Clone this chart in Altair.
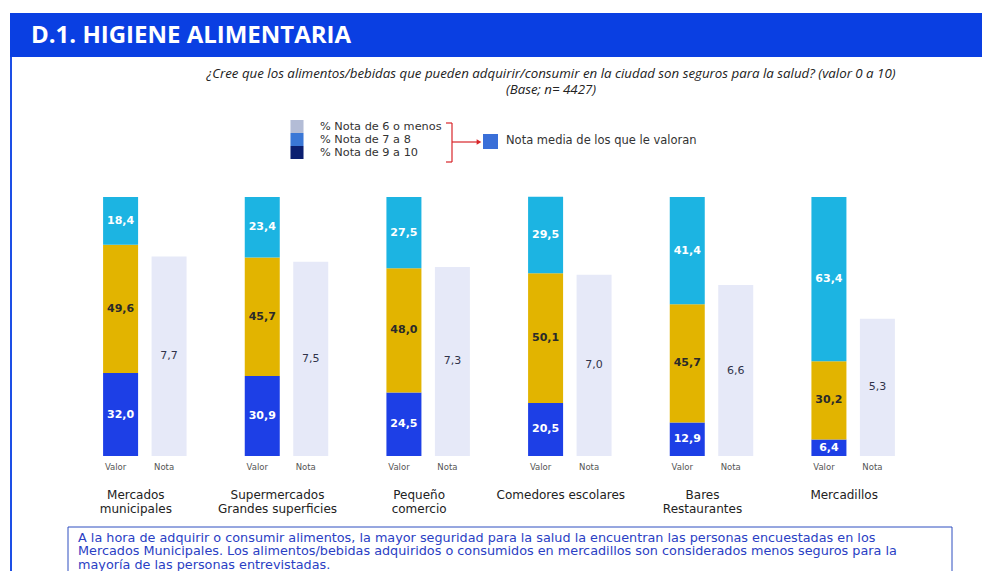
import altair as alt
import pandas as pd

# ---------------- data ----------------
categories = [
    "Mercados\nmunicipales",
    "Supermercados\nGrandes superficies",
    "Pequeño\ncomercio",
    "Comedores escolares",
    "Bares\nRestaurantes",
    "Mercadillos",
]
pct_9_10 = [32.0, 30.9, 24.5, 20.5, 12.9, 6.4]
pct_7_8 = [49.6, 45.7, 48.0, 50.1, 45.7, 30.2]
pct_6_menos = [18.4, 23.4, 27.5, 29.5, 41.4, 63.4]
nota_media = [7.7, 7.5, 7.3, 7.0, 6.6, 5.3]
segments = ["% Nota de 9 a 10", "% Nota de 7 a 8", "% Nota de 6 o menos"]
bar_kinds = ["Valor", "Nota"]
legend_labels = ["% Nota de 6 o menos", "% Nota de 7 a 8", "% Nota de 9 a 10"]
legend_note = "Nota media de los que le valoran"
title_text = "D.1. HIGIENE ALIMENTARIA"
subtitle_lines = [
    "¿Cree que los alimentos/bebidas que pueden adquirir/consumir en la ciudad son seguros para la salud? (valor 0 a 10)",
    "(Base; n= 4427)",
]
box_lines = [
    "A la hora de adquirir o consumir alimentos, la mayor seguridad para la salud la encuentran las personas encuestadas  en los",
    "Mercados Municipales. Los alimentos/bebidas adquiridos o consumidos en mercadillos son considerados menos seguros para la",
    "mayoría de las personas entrevistadas.",
]

seg_rows = []
for i, c in enumerate(categories):
    for k, (name, arr) in enumerate(zip(segments, [pct_9_10, pct_7_8, pct_6_menos])):
        seg_rows.append({"cat": c, "seg": name, "ord": k, "val": arr[i], "tipo": "Valor"})
seg_df = pd.DataFrame(seg_rows)
nota_df = pd.DataFrame({"cat": categories, "nota": nota_media, "tipo": "Nota"})
kind_df = pd.DataFrame([{"cat": c, "tipo": t} for c in categories for t in bar_kinds])
cat_df = pd.DataFrame({"cat": categories})

# ---------------- layout ----------------
W, H = 850, 259
PL, PT = 66, 189
TOTW, TOTH = 974, 563
OX, OY = PL + 8, PT + 8  # page coords of plot origin


def px(x):
    return x - OX


def py(y):
    return y - OY


WIDE = "DejaVu Sans"
BLUE = "#1d3fe6"
GOLD = "#e2b400"
CYAN = "#1cb4e2"
LAV = "#e6e9f8"
HEADER = "#0a3fe2"

x_enc = alt.X("cat:N", scale=alt.Scale(domain=categories, paddingInner=0, paddingOuter=0), axis=None)
xo_enc = alt.XOffset("tipo:N", scale=alt.Scale(domain=bar_kinds, paddingInner=0.278, paddingOuter=0.6))
y_scale = alt.Scale(domain=[0, 100], nice=False, zero=True)

stacked = alt.Chart(seg_df).transform_stack(
    stack="val", groupby=["cat"], sort=[alt.SortField("ord", order="ascending")], as_=["y0", "y1"]
).transform_calculate(
    mid="(datum.y0 + datum.y1) / 2",
    lbl="replace(format(datum.val, '.1f'), '.', ',')",
)

bars = stacked.mark_bar().encode(
    x=x_enc,
    xOffset=xo_enc,
    y=alt.Y("y0:Q", scale=y_scale, axis=None),
    y2="y1:Q",
    color=alt.Color("seg:N", scale=alt.Scale(domain=segments, range=[BLUE, GOLD, CYAN]), legend=None),
)

bar_text = stacked.mark_text(font=WIDE, fontSize=11, fontWeight="bold").encode(
    x=x_enc,
    xOffset=xo_enc,
    y=alt.Y("mid:Q", scale=y_scale, axis=None),
    text="lbl:N",
    color=alt.condition(alt.datum.seg == segments[1], alt.value("#2a2a2a"), alt.value("white")),
)

nota_base = alt.Chart(nota_df).transform_calculate(
    n10="datum.nota * 10",
    n5="datum.nota * 5",
    lbl="replace(format(datum.nota, '.1f'), '.', ',')",
)
nota_bars = nota_base.mark_bar(color=LAV).encode(
    x=x_enc, xOffset=xo_enc, y=alt.Y("n10:Q", scale=y_scale, axis=None)
)
nota_text = nota_base.mark_text(font=WIDE, fontSize=11, color="#30334a").encode(
    x=x_enc, xOffset=xo_enc, y=alt.Y("n5:Q", scale=y_scale, axis=None), text="lbl:N"
)

kind_text = alt.Chart(kind_df).mark_text(font=WIDE, fontSize=8.5, color="#555555", dx=-5).encode(
    x=x_enc, xOffset=xo_enc, y=alt.value(py(467)), text="tipo:N"
)

cat_text = alt.Chart(cat_df).mark_text(
    font=WIDE, fontSize=12, color="#222222", lineBreak="\n", baseline="middle", lineHeight=13.5, dx=-9
).encode(x=x_enc, y=alt.value(py(495)), text="cat:N")

one = pd.DataFrame({"k": [0]})

header = alt.Chart(one).mark_rect(color=HEADER).encode(
    x=alt.value(px(10)), x2=alt.value(px(995)), y=alt.value(py(13)), y2=alt.value(py(57))
)
header_text = alt.Chart(pd.DataFrame({"t": [title_text]})).mark_text(
    font="Open Sans", fontSize=24, fontWeight="bold", color="white", align="left", baseline="middle"
).encode(x=alt.value(px(31)), y=alt.value(py(36)), text="t:N")
left_line = alt.Chart(one).mark_rule(color="#1d4fe6", strokeWidth=2).encode(
    x=alt.value(px(11)), y=alt.value(py(57)), y2=alt.value(py(590))
)

sub_df = pd.DataFrame({"t": subtitle_lines, "i": [0, 1]})
subtitle = alt.Chart(sub_df).mark_text(
    font="Open Sans", fontSize=13.3, fontStyle="italic", color="#222222", align="center", baseline="middle"
).encode(
    x=alt.value(px(551)),
    y=alt.Y("i:Q", scale=alt.Scale(domain=[0, 1], range=[py(73.5), py(90)]), axis=None),
    text="t:N",
)

# legend
leg_df = pd.DataFrame({"t": legend_labels, "i": [0, 1, 2]})
leg_y = alt.Y("i:Q", scale=alt.Scale(domain=[0, 2], range=[py(126.5), py(152.5)]), axis=None)
leg_sw = alt.Chart(leg_df).mark_square(size=170, opacity=1).encode(
    x=alt.value(px(297)),
    y=leg_y,
    color=alt.Color("i:O", scale=alt.Scale(domain=[0, 1, 2], range=["#b3bcd6", "#3a77d6", "#0b1f70"]), legend=None),
)
leg_txt = alt.Chart(leg_df).mark_text(
    font=WIDE, fontSize=11.3, color="#333333", align="left", baseline="middle"
).encode(x=alt.value(px(320)), y=leg_y, text="t:N")
RED = "#d8262a"
br_v = alt.Chart(one).mark_rule(color=RED, strokeWidth=1.2).encode(
    x=alt.value(px(452)), y=alt.value(py(123)), y2=alt.value(py(162))
)
br_t = alt.Chart(one).mark_rule(color=RED, strokeWidth=1.2).encode(
    x=alt.value(px(446)), x2=alt.value(px(452)), y=alt.value(py(123))
)
br_b = alt.Chart(one).mark_rule(color=RED, strokeWidth=1.2).encode(
    x=alt.value(px(446)), x2=alt.value(px(452)), y=alt.value(py(162))
)
arrow = alt.Chart(one).mark_rule(color=RED, strokeWidth=1.2).encode(
    x=alt.value(px(452)), x2=alt.value(px(478)), y=alt.value(py(142))
)
arrow_head = alt.Chart(one).mark_point(shape="triangle-right", filled=True, color=RED, size=30, opacity=1).encode(
    x=alt.value(px(479)), y=alt.value(py(142))
)
note_sw = alt.Chart(one).mark_rect(color="#3a6fd8").encode(
    x=alt.value(px(483)), x2=alt.value(px(498)), y=alt.value(py(134)), y2=alt.value(py(149))
)
note_txt = alt.Chart(pd.DataFrame({"t": [legend_note]})).mark_text(
    font=WIDE, fontSize=11.5, color="#333333", align="left", baseline="middle"
).encode(x=alt.value(px(506)), y=alt.value(py(141)), text="t:N")

# bottom box
box = alt.Chart(one).mark_rect(fill="white", stroke="#2f4fc0", strokeWidth=1).encode(
    x=alt.value(px(68)), x2=alt.value(px(952)), y=alt.value(py(527)), y2=alt.value(py(600))
)
box_df = pd.DataFrame({"t": box_lines, "i": [0, 1, 2]})
box_txt = alt.Chart(box_df).mark_text(
    font=WIDE, fontSize=12.8, color="#2a40c4", align="left", baseline="middle"
).encode(
    x=alt.value(px(78)),
    y=alt.Y("i:Q", scale=alt.Scale(domain=[0, 2], range=[py(537.5), py(565)]), axis=None),
    text="t:N",
)

chart = alt.layer(
    header, header_text, left_line, subtitle,
    leg_sw, leg_txt, br_v, br_t, br_b, arrow, arrow_head, note_sw, note_txt,
    nota_bars, bars, bar_text, nota_text, kind_text, cat_text,
    box, box_txt,
).resolve_scale(y="independent", color="independent").properties(
    width=W,
    height=H,
    padding={"left": PL, "top": PT, "right": TOTW - PL - W, "bottom": TOTH - PT - H},
    autosize=alt.AutoSizeParams(type="none"),
    background="white",
).configure_view(stroke=None)

chart.save("out.html", embed_options={"renderer": "svg", "actions": False})
